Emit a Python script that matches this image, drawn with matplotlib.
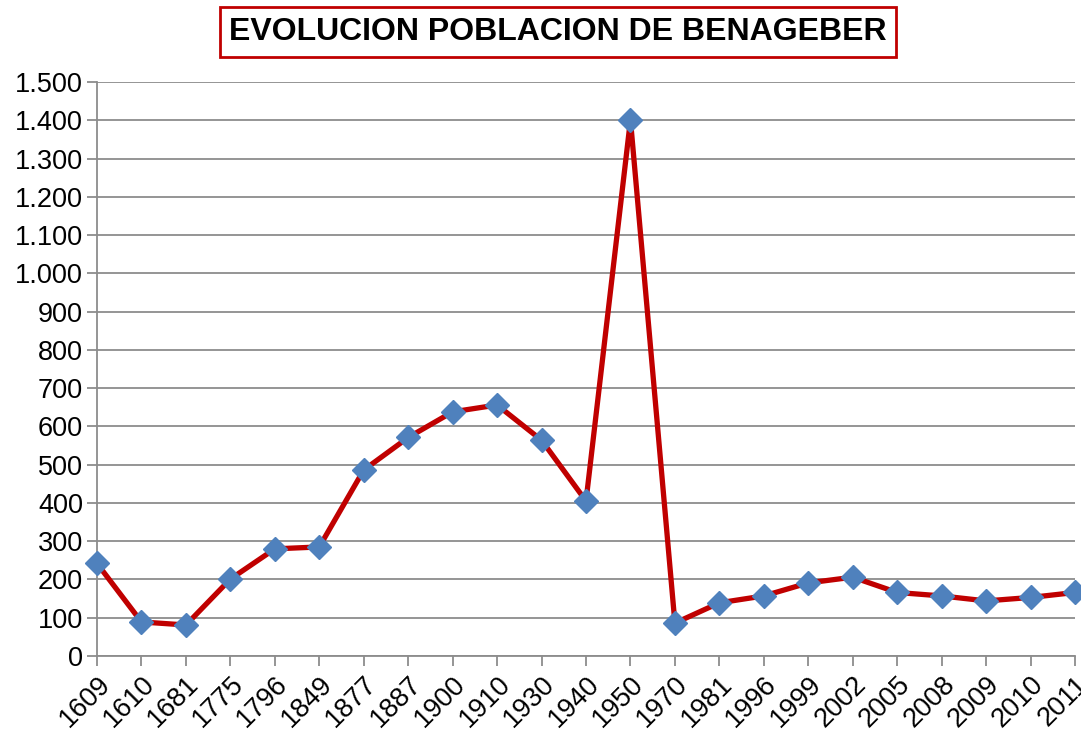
import matplotlib.pyplot as plt

years = ['1609', '1610', '1681', '1775', '1796', '1849', '1877', '1887', '1900', '1910',
         '1930', '1940', '1950', '1970', '1981', '1996', '1999', '2002', '2005', '2008',
         '2009', '2010', '2011']
population = [242, 89, 81, 201, 280, 285, 486, 571, 638, 656,
              564, 405, 1401, 86, 139, 157, 191, 206, 166, 157,
              144, 153, 166]
y_ticks = list(range(0, 1501, 100))
y_labels = ['{:,}'.format(v).replace(',', '.') for v in y_ticks]

plt.rcParams['font.family'] = ['Liberation Sans', 'DejaVu Sans']

fig = plt.figure(figsize=(10.81, 7.31), dpi=100)
ax = fig.add_axes([97 / 1081, 1 - 656 / 731, (1075 - 97) / 1081, (656 - 82) / 731])

x = list(range(len(years)))
ax.plot(x, population, color='#c00000', linewidth=3.8, zorder=3)
ax.plot(x, population, linestyle='none', marker='D', markersize=12.5,
        markerfacecolor='#4f81bd', markeredgecolor='#4f81bd', zorder=4, clip_on=False)

ax.set_xlim(0, len(years) - 1)
ax.set_ylim(0, 1500)
ax.set_yticks(y_ticks)
ax.set_yticklabels(y_labels, fontsize=19.5)
ax.set_xticks(x)
ax.set_xticklabels(years, fontsize=19.5, rotation=45, ha='right', rotation_mode='anchor')

ax.grid(axis='y', color='#8c8c8c', linewidth=1.3)
ax.set_axisbelow(True)
for side in ['top', 'right']:
    ax.spines[side].set_visible(False)
for side in ['left', 'bottom']:
    ax.spines[side].set_color('#8c8c8c')
    ax.spines[side].set_linewidth(1.3)
ax.tick_params(axis='both', colors='#8c8c8c', length=7, width=1.3, labelcolor='black')
ax.tick_params(axis='y', pad=3)
ax.tick_params(axis='x', pad=4)

fig.text(558 / 1081, 1 - 32 / 731, 'EVOLUCION POBLACION DE BENAGEBER', ha='center', va='center',
         fontsize=23, fontweight='bold',
         bbox=dict(boxstyle='square,pad=0.3', facecolor='white', edgecolor='#c00000', linewidth=2))

fig.savefig('out.png', dpi=100)
